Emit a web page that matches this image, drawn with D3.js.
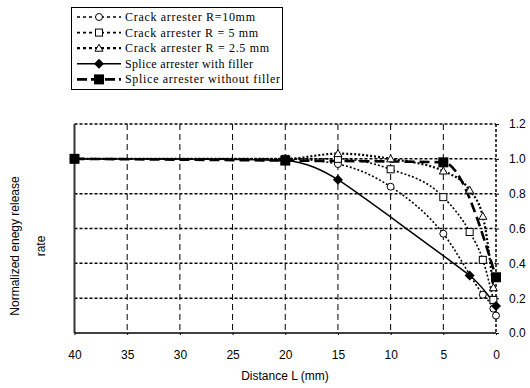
<!DOCTYPE html>
<html lang="en">
<head>
<meta charset="utf-8">
<title>Normalized energy release rate</title>
<script src="https://d3js.org/d3.v7.min.js"></script>
<style>
  body { margin: 0; background: white; }
  svg { display: block; }
  .tick-label { font-family: 'Liberation Sans', Arial, sans-serif; font-size: 12px; }
  .legend-text { font-family: 'Liberation Serif', 'Times New Roman', serif; font-size: 12px; }
</style>
</head>
<body>
<svg id="chart" width="530" height="388"></svg>
<script>
// distances (mm) and normalized energy release rate
const r10L = [40, 20, 15, 10, 5, 1.25, 0.25, 0];
const r10G = [1.0, 1.0, 0.97, 0.84, 0.57, 0.22, 0.14, 0.10];
const r5L = [40, 20, 15, 10, 5, 2.5, 1.25, 0.25];
const r5G = [1.0, 1.0, 1.0, 0.94, 0.78, 0.58, 0.42, 0.19];
const r25L = [40, 20, 15, 10, 5, 2.5, 1.25, 0.25];
const r25G = [1.0, 1.0, 1.03, 1.0, 0.93, 0.82, 0.67, 0.26];
const fillL = [40, 20, 15, 2.5, 0];
const fillG = [1.0, 0.99, 0.88, 0.33, 0.155];
const nofillL = [40, 20, 5, 0];
const nofillG = [1.0, 0.99, 0.98, 0.32];

const xTicks = [40, 35, 30, 25, 20, 15, 10, 5, 0];
const yTicks = [0, 0.2, 0.4, 0.6, 0.8, 1.0, 1.2];
const seriesNames = ["Crack arrester R=10mm", "Crack arrester R = 5 mm", "Crack arrester R = 2.5 mm",
                     "Splice arrester with filler", "Splice arrester without filler"];
// legend text widths, to match the wider font of the original
const legendWidths = [130, 133, 144, 128, 155];

const svg = d3.select("#chart");
const x = d3.scaleLinear().domain([40, 0]).range([74.5, 496]);
const y = d3.scaleLinear().domain([0, 1.2]).range([333, 124]);

// grid
svg.selectAll("line.vgrid").data(xTicks.filter(d => d > 0 && d < 40))
  .join("line").attr("class", "vgrid")
  .attr("x1", d => x(d)).attr("x2", d => x(d))
  .attr("y1", y(1.2)).attr("y2", y(0))
  .attr("stroke", "black").attr("stroke-width", 1)
  .attr("stroke-dasharray", "6,4");
svg.selectAll("line.hgrid").data(yTicks.filter(d => d > 0))
  .join("line").attr("class", "hgrid")
  .attr("x1", x(40)).attr("x2", x(0))
  .attr("y1", d => y(d)).attr("y2", d => y(d))
  .attr("stroke", "black").attr("stroke-width", 1.5)
  .attr("stroke-dasharray", "3,2");

// frame
svg.append("line").attr("x1", x(0)).attr("x2", x(0)).attr("y1", y(1.2)).attr("y2", y(0))
  .attr("stroke", "black").attr("stroke-width", 1.5).attr("stroke-dasharray", "3,2");
svg.append("line").attr("x1", x(40)).attr("x2", x(40)).attr("y1", y(1.2)).attr("y2", y(0))
  .attr("stroke", "#333").attr("stroke-width", 2);
svg.append("line").attr("x1", x(40)).attr("x2", x(0)).attr("y1", y(0)).attr("y2", y(0))
  .attr("stroke", "black").attr("stroke-width", 1.5);

// axes (tick marks + labels)
const xAxis = svg.append("g").attr("transform", `translate(0,${y(0)})`)
  .call(d3.axisBottom(x).tickValues(xTicks).tickSize(2).tickPadding(15).tickFormat(d3.format("d")));
xAxis.select(".domain").remove();
xAxis.selectAll("text").attr("class", "tick-label").attr("fill", "black");

const yAxis = svg.append("g").attr("transform", `translate(${x(0)},0)`)
  .call(d3.axisRight(y).tickValues(yTicks).tickSize(3).tickPadding(10).tickFormat(d3.format(".1f")));
yAxis.select(".domain").remove();
yAxis.selectAll("text").attr("class", "tick-label").attr("fill", "black");

svg.append("text").attr("class", "tick-label")
  .attr("x", 285).attr("y", 380).attr("text-anchor", "middle").text("Distance L (mm)");
const yl = svg.append("text").attr("class", "tick-label").attr("text-anchor", "middle")
  .attr("transform", "translate(0,246) rotate(-90)");
yl.append("tspan").attr("x", 0).attr("y", 19).text("Normalized enegy release");
yl.append("tspan").attr("x", 0).attr("y", 45).text("rate");

// series
const styles = [
  { L: r10L, G: r10G, dash: "2,2", w: 1.6, marker: "circle", curve: d3.curveMonotoneX },
  { L: r5L, G: r5G, dash: "2,2", w: 1.6, marker: "square", curve: d3.curveMonotoneX },
  { L: r25L, G: r25G, dash: "2,2", w: 2.2, marker: "triangle", curve: d3.curveMonotoneX },
  { L: fillL, G: fillG, dash: null, w: 1.5, marker: "diamond", curve: d3.curveCardinal.tension(0.5) },
  { L: nofillL, G: nofillG, dash: "10,5", w: 2.6, marker: "bigsquare", curve: d3.curveMonotoneX }
];

function drawMarker(g, type, cx, cy) {
  if (type === "circle") {
    g.append("circle").attr("cx", cx).attr("cy", cy).attr("r", 3.5)
      .attr("fill", "white").attr("stroke", "black").attr("stroke-width", 1);
  } else if (type === "square") {
    g.append("rect").attr("x", cx - 3.5).attr("y", cy - 3.5).attr("width", 7).attr("height", 7)
      .attr("fill", "white").attr("stroke", "black").attr("stroke-width", 1);
  } else if (type === "triangle") {
    g.append("path").attr("d", `M${cx},${cy - 4}L${cx + 4},${cy + 3}L${cx - 4},${cy + 3}Z`)
      .attr("fill", "white").attr("stroke", "black").attr("stroke-width", 1);
  } else if (type === "diamond") {
    g.append("path").attr("d", `M${cx},${cy - 5}L${cx + 5},${cy}L${cx},${cy + 5}L${cx - 5},${cy}Z`)
      .attr("fill", "black");
  } else {
    g.append("rect").attr("x", cx - 5).attr("y", cy - 5).attr("width", 10).attr("height", 10)
      .attr("fill", "black");
  }
}

styles.forEach(s => {
  const pts = s.L.map((l, i) => [l, s.G[i]]);
  const line = d3.line().x(d => x(d[0])).y(d => y(d[1])).curve(s.curve);
  const p = svg.append("path").attr("d", line(pts)).attr("fill", "none")
    .attr("stroke", "black").attr("stroke-width", s.w);
  if (s.dash) p.attr("stroke-dasharray", s.dash);
});
styles.forEach(s => {
  const g = svg.append("g");
  s.L.forEach((l, i) => drawMarker(g, s.marker, x(l), y(s.G[i])));
});

// legend
const lg = svg.append("g");
lg.append("rect").attr("x", 71.5).attr("y", 7.5).attr("width", 211).attr("height", 82)
  .attr("fill", "white").attr("stroke", "black").attr("stroke-width", 1);
styles.forEach((s, i) => {
  const ly = 17 + i * 15.6;
  const l = lg.append("line").attr("x1", 77).attr("x2", 121).attr("y1", ly).attr("y2", ly)
    .attr("stroke", "black").attr("stroke-width", s.w);
  if (s.dash) l.attr("stroke-dasharray", i < 3 ? "3,3" : "10,4");
  drawMarker(lg, s.marker, 99, ly);
  lg.append("text").attr("class", "legend-text").attr("x", 125).attr("y", ly + 4)
    .attr("textLength", legendWidths[i]).attr("lengthAdjust", "spacing")
    .text(seriesNames[i]);
});
</script>
</body>
</html>
